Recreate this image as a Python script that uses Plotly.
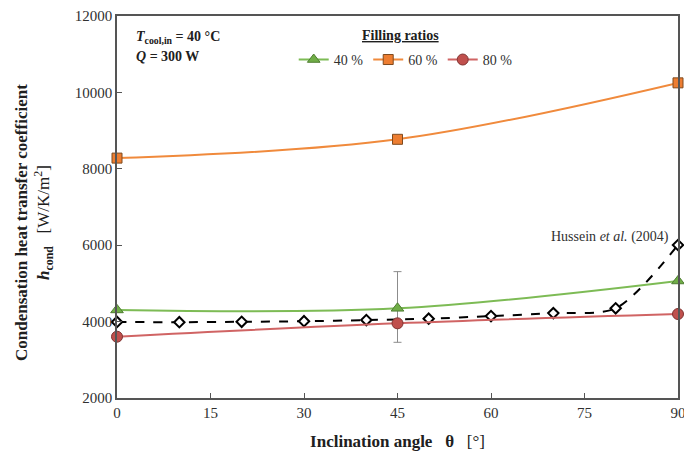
import plotly.graph_objects as go

angles = [0, 45, 90]
fr40 = [4305, 4348, 5063]
fr60 = [8280, 8772, 10250]
fr80 = [3605, 3955, 4199]
err_x = [45]
err_center = [4383]
err_half = [925]
huss_x = [0, 10, 20, 30, 40, 50, 60, 70, 80, 90]
huss_y = [3990, 3985, 3995, 4010, 4040, 4076, 4144, 4222, 4348, 6005]
x_ticks = [0, 15, 30, 45, 60, 75, 90]
y_ticks = [2000, 4000, 6000, 8000, 10000, 12000]

serif = "Liberation Serif, Times New Roman, serif"

fig = go.Figure()

fig.add_trace(go.Scatter(
    x=err_x, y=err_center, mode="markers", showlegend=False, hoverinfo="skip",
    marker=dict(size=1, color="rgba(0,0,0,0)"),
    error_y=dict(type="data", array=err_half, color="#8c8c8c", thickness=1, width=4),
))

fig.add_trace(go.Scatter(
    x=huss_x, y=huss_y, mode="lines+markers", showlegend=False, cliponaxis=False,
    line=dict(color="black", width=2, dash="dash", shape="spline", smoothing=0.8),
    marker=dict(symbol="diamond", size=8, color="white", line=dict(color="black", width=2)),
))

fig.add_trace(go.Scatter(
    x=angles, y=fr40, name="40 %", mode="lines+markers", cliponaxis=False,
    line=dict(color="#7dbb55", width=2, shape="spline", smoothing=1),
    marker=dict(symbol="triangle-up", size=11, color="#70ad47", line=dict(color="#4e7d31", width=1)),
))
fig.add_trace(go.Scatter(
    x=angles, y=fr60, name="60 %", mode="lines+markers", cliponaxis=False,
    line=dict(color="#f08a3c", width=2, shape="spline", smoothing=1),
    marker=dict(symbol="square", size=10, color="#ed7d31", line=dict(color="#7f4a1e", width=1)),
))
fig.add_trace(go.Scatter(
    x=angles, y=fr80, name="80 %", mode="lines+markers", cliponaxis=False,
    line=dict(color="#d06464", width=2, shape="spline", smoothing=1),
    marker=dict(symbol="circle", size=11, color="#c0504d", line=dict(color="#7f3331", width=1)),
))

fig.update_layout(
    width=684, height=455,
    margin=dict(l=117, r=6, t=16, b=57),
    paper_bgcolor="white", plot_bgcolor="white",
    font=dict(family=serif, size=13, color="#303030"),
    showlegend=True,
    legend=dict(
        orientation="h", x=0.315, y=0.885, xanchor="left", yanchor="middle",
        bgcolor="rgba(0,0,0,0)", font=dict(family=serif, size=14, color="#303030"),
        itemwidth=30, tracegroupgap=0,
    ),
    xaxis=dict(
        range=[0, 90], tickvals=x_ticks, ticks="inside", ticklen=5, tickcolor="#555",
        showline=True, linecolor="#555", linewidth=1.5, mirror=True, showgrid=False,
        zeroline=False, automargin=False, ticklabeloverflow="allow",
        tickfont=dict(family=serif, size=15, color="#303030"),
        title=dict(text="<b>Inclination angle   θ</b>   [°]",
                   font=dict(family=serif, size=17, color="#202020")),
    ),
    yaxis=dict(
        range=[2000, 12000], tickvals=y_ticks, ticktext=[str(v) for v in y_ticks],
        ticks="inside", ticklen=5, tickcolor="#555",
        showline=True, linecolor="#555", linewidth=1.5, mirror=True, showgrid=False,
        zeroline=False, automargin=False, ticklabeloverflow="allow",
        tickfont=dict(family=serif, size=15, color="#303030"),
    ),
    annotations=[
        dict(text="<b>Condensation heat transfer coefficient</b><br><b><i>h</i><sub>cond</sub></b>   [W/K/m<sup>2</sup>]",
             xref="paper", yref="paper", x=0, y=0.5, xanchor="center", yanchor="middle",
             xshift=-83, yshift=-16, textangle=-90, showarrow=False,
             font=dict(family=serif, size=17, color="#202020")),
        dict(text="<b><u>Filling ratios</u></b>", xref="paper", yref="paper",
             x=0.505, y=0.95, xanchor="center", yanchor="middle", showarrow=False,
             font=dict(family=serif, size=14, color="#202020")),
        dict(text="<b><i>T</i><sub>cool,in</sub> = 40 °C</b>", xref="paper", yref="paper",
             x=0.03, y=0.945, xanchor="left", yanchor="middle", showarrow=False,
             font=dict(family=serif, size=14, color="#202020")),
        dict(text="<b><i>Q</i> = 300 W</b>", xref="paper", yref="paper",
             x=0.03, y=0.895, xanchor="left", yanchor="middle", showarrow=False,
             font=dict(family=serif, size=14, color="#202020")),
        dict(text="Hussein <i>et al.</i> (2004)", xref="x", yref="y",
             x=88.8, y=6215, xanchor="right", yanchor="middle", showarrow=False,
             font=dict(family=serif, size=14, color="#303030")),
    ],
)

fig.write_html("out.html", config={"displayModeBar": False},
               post_script="document.body.style.margin='0';document.body.style.overflow='hidden';")
